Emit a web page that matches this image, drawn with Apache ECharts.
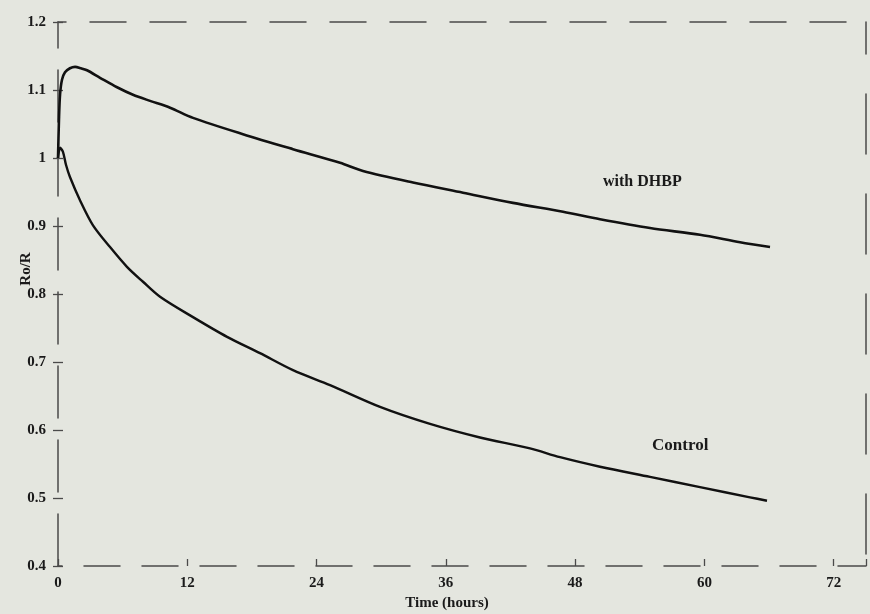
<!DOCTYPE html>
<html>
<head>
<meta charset="utf-8">
<script src="https://cdn.jsdelivr.net/npm/echarts@6/dist/echarts.min.js"></script>
<style>
html,body{margin:0;padding:0;background:#e4e6df;}
#chart{width:870px;height:614px;}
</style>
</head>
<body>
<div id="chart"></div>
<script>
// Time (hours) and Ro/R values
var dhbpTime  = [0, 0.09, 0.19, 0.37, 0.65, 1.11, 1.58, 2.13, 2.69, 3.90, 5.48, 6.96, 8.54, 10.40, 12.53, 17.17, 21.81, 26.18, 28.31, 32.95, 37.59, 42.23, 46.88, 50.31, 54.95, 59.59, 63.31, 66.09];
var dhbpValue = [1.000, 1.056, 1.093, 1.115, 1.126, 1.132, 1.134, 1.132, 1.129, 1.118, 1.104, 1.093, 1.084, 1.074, 1.059, 1.035, 1.013, 0.993, 0.981, 0.964, 0.949, 0.934, 0.921, 0.910, 0.897, 0.887, 0.876, 0.869];

var ctrlTime  = [0, 0.19, 0.46, 0.74, 1.11, 2.04, 3.25, 4.83, 6.40, 7.89, 9.47, 12.53, 15.69, 18.75, 21.81, 25.25, 29.89, 34.53, 39.17, 43.81, 46.60, 50.31, 54.95, 59.59, 64.23, 65.81];
var ctrlValue = [1.000, 1.015, 1.009, 0.990, 0.972, 0.938, 0.901, 0.869, 0.840, 0.818, 0.796, 0.766, 0.737, 0.713, 0.688, 0.666, 0.634, 0.609, 0.589, 0.573, 0.560, 0.546, 0.531, 0.516, 0.501, 0.496];

var xTicks = [0, 12, 24, 36, 48, 60, 72];
var yMin = 0.4, yMax = 1.2, yStep = 0.1;

function zip(a, b) { return a.map(function (v, i) { return [v, b[i]]; }); }

var serif = '"Liberation Serif", "DejaVu Serif", serif';
var frameColor = '#4a4a4a';
var ink = '#1a1a1a';

var chart = echarts.init(document.getElementById('chart'));
chart.setOption({
  backgroundColor: '#e4e6df',
  animation: false,
  grid: { left: 58, right: 4, top: 22, bottom: 48, containLabel: false, outerBoundsMode: 'none' },
  xAxis: [{
    type: 'value', min: 0, max: 75, interval: 12, position: 'bottom',
    name: 'Time (hours)', nameLocation: 'middle', nameGap: 29,
    nameTextStyle: { fontFamily: serif, fontWeight: 'bold', fontSize: 15, color: ink, padding: [0, 30, 0, 0] },
    axisLine: { show: true, lineStyle: { color: frameColor, width: 1.5, type: [36, 22], dashOffset: -26 } },
    axisTick: { show: true, inside: true, length: 7, lineStyle: { color: frameColor, width: 1.3 } },
    axisLabel: { margin: 10, fontFamily: serif, fontWeight: 'bold', fontSize: 15, color: ink,
      formatter: function (v) { return xTicks.indexOf(v) >= 0 ? String(v) : ''; } },
    splitLine: { show: false }
  }, {
    type: 'value', min: 0, max: 75, interval: 12, position: 'top',
    axisLine: { show: true, lineStyle: { color: frameColor, width: 1.5, type: [36, 24], dashOffset: -32 } },
    axisTick: { show: false }, axisLabel: { show: false }, splitLine: { show: false }
  }],
  yAxis: [{
    type: 'value', min: yMin, max: yMax, interval: yStep, position: 'left',
    axisLine: { show: true, lineStyle: { color: frameColor, width: 1.5, type: [52, 22], dashOffset: 0 } },
    axisTick: { show: true, inside: false, length: 5, lineStyle: { color: frameColor, width: 1.3 } },
    axisLabel: { margin: 12, fontFamily: serif, fontWeight: 'bold', fontSize: 15, color: ink,
      formatter: function (v) { return String(Math.round(v * 10) / 10); } },
    splitLine: { show: false }
  }, {
    type: 'value', min: yMin, max: yMax, interval: yStep, position: 'left',
    axisLine: { show: false },
    axisTick: { show: true, inside: true, length: 5, lineStyle: { color: frameColor, width: 1.3 } },
    axisLabel: { show: false }, splitLine: { show: false }
  }, {
    type: 'value', min: yMin, max: yMax, interval: yStep, position: 'right',
    axisLine: { show: true, lineStyle: { color: frameColor, width: 1.5, type: [60, 40], dashOffset: -12 } },
    axisTick: { show: false }, axisLabel: { show: false }, splitLine: { show: false }
  }],
  series: [{
    name: 'with DHBP', type: 'line', xAxisIndex: 0, yAxisIndex: 0,
    data: zip(dhbpTime, dhbpValue), showSymbol: false, symbol: 'none', smooth: 0.3,
    lineStyle: { color: '#111', width: 2.6 }
  }, {
    name: 'Control', type: 'line', xAxisIndex: 0, yAxisIndex: 0,
    data: zip(ctrlTime, ctrlValue), showSymbol: false, symbol: 'none', smooth: 0.3,
    lineStyle: { color: '#111', width: 2.4 }
  }],
  graphic: [{
    type: 'text', left: 603, top: 174,
    style: { text: 'with DHBP', fontFamily: serif, fontWeight: 'bold', fontSize: 16, fill: ink }
  }, {
    type: 'text', left: 652, top: 437,
    style: { text: 'Control', fontFamily: serif, fontWeight: 'bold', fontSize: 17, fill: ink }
  }, {
    type: 'text', x: 26, y: 269, rotation: Math.PI / 2,
    style: { text: 'Ro/R', fontFamily: serif, fontWeight: 'bold', fontSize: 15, fill: ink, align: 'center', verticalAlign: 'middle' }
  }]
});
</script>
</body>
</html>
